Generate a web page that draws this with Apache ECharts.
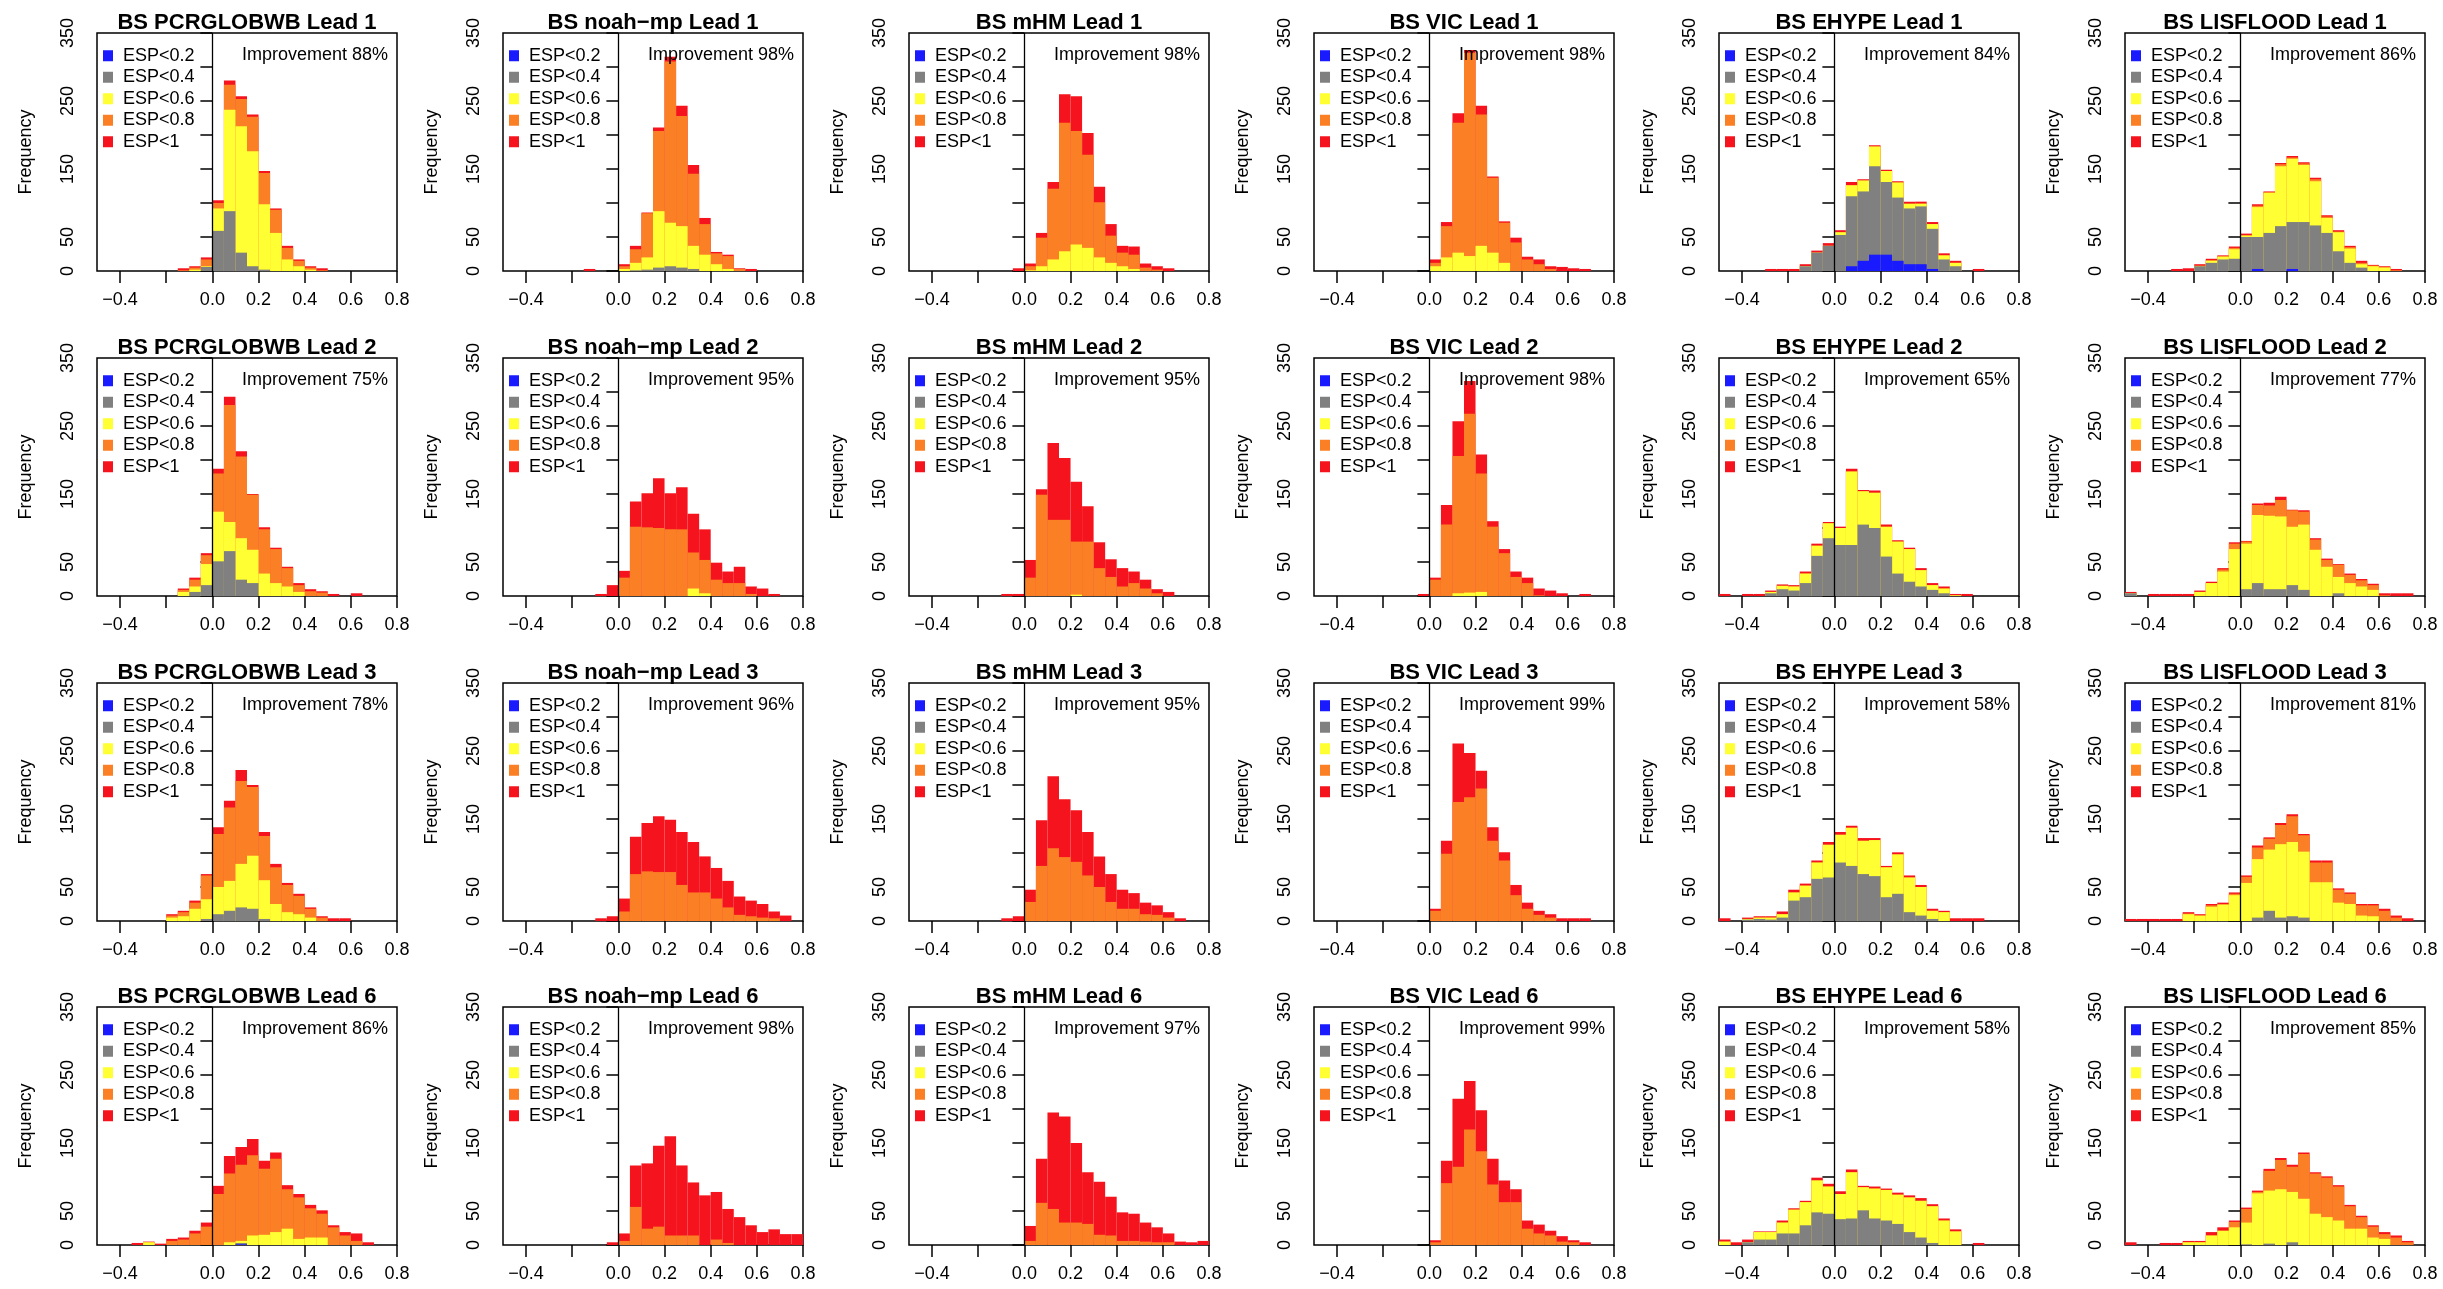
<!DOCTYPE html>
<html><head><meta charset="utf-8">
<script src="https://cdn.jsdelivr.net/npm/echarts@6/dist/echarts.min.js"></script>
<style>html,body{margin:0;padding:0;background:#fff}#c{width:2443px;height:1289px}</style>
</head><body><div id="c"></div>
<script>
// ---------- DATA ----------
// bin lower edges (width 0.05)
const binStarts = [-0.5,-0.45,-0.4,-0.35,-0.3,-0.25,-0.2,-0.15,-0.1,-0.05,0,0.05,0.1,0.15,0.2,0.25,0.3,0.35,0.4,0.45,0.5,0.55,0.6,0.65,0.7,0.75];
const xTicks = [-0.4,-0.2,0,0.2,0.4,0.6,0.8];
const xLabels = [-0.4,0,0.2,0.4,0.6,0.8];
const yLabels = [0,50,150,250,350];
const models = ['PCRGLOBWB','noah\u2212mp','mHM','VIC','EHYPE','LISFLOOD'];
const leads = [1,2,3,6];
const improvement = [[88,98,98,98,84,86],[75,95,95,98,65,77],[78,96,95,99,58,81],[86,98,97,99,58,85]];
const legendOrder = ['ESP<0.2','ESP<0.4','ESP<0.6','ESP<0.8','ESP<1'];
const none = [0,0,0,0,0,0,0,0,0,0,0,0,0,0,0,0,0,0,0,0,0,0,0,0,0,0];

// cumulative counts per class (r: ESP<1, o: ESP<0.8, y: ESP<0.6, g: ESP<0.4, b: ESP<0.2)
// Lead 1
const pcr1_r = [0,0,0,0,0,0,0,4,7,20,104,280,257,230,147,92,37,17,7,4,0,0,0,0,0,0];
const pcr1_o = [0,0,0,0,0,0,0,1,5,17,100,274,253,227,144,90,34,15,5,1,0,0,0,0,0,0];
const pcr1_y = [0,0,0,0,0,0,0,0,2,7,92,237,213,176,98,56,17,7,2,0,0,0,0,0,0,0];
const pcr1_g = [0,0,0,0,0,0,0,0,0,6,59,88,27,7,2,0,0,0,0,0,0,0,0,0,0,0];
const noah1_r = [0,0,0,0,0,0,0,3,0,0,10,37,86,211,315,243,156,78,28,24,4,3,0,0,0,0];
const noah1_o = [0,0,0,0,0,0,0,0,0,0,7,32,85,206,308,228,143,69,26,22,3,0,0,0,0,0];
const noah1_y = [0,0,0,0,0,0,0,0,0,0,3,12,20,88,71,66,37,24,10,3,0,0,0,0,0,0];
const noah1_g = [0,0,0,0,0,0,0,0,0,0,0,1,2,5,7,5,3,0,0,0,0,0,0,0,0,0];
const mhm1_r = [0,0,0,0,0,0,0,0,0,4,11,56,131,260,257,203,124,69,37,36,11,7,4,0,0,0];
const mhm1_o = [0,0,0,0,0,0,0,0,0,0,7,49,121,218,206,171,101,52,27,24,5,2,0,0,0,0];
const mhm1_y = [0,0,0,0,0,0,0,0,0,0,1,7,17,29,39,34,20,12,7,3,0,0,0,0,0,0];
const vic1_r = [0,0,0,0,0,0,0,0,0,0,17,72,232,325,243,139,73,49,21,17,7,6,4,3,0,0];
const vic1_o = [0,0,0,0,0,0,0,0,0,0,12,66,218,321,230,137,71,42,17,10,3,0,0,0,0,0];
const vic1_y = [0,0,0,0,0,0,0,0,0,0,7,20,27,22,37,27,12,0,0,0,0,0,0,0,0,0];
const ehype1_r = [0,0,0,0,3,3,3,10,30,41,60,131,135,185,149,132,102,102,72,26,15,0,3,0,0,0];
const ehype1_y = [0,0,0,0,0,0,0,7,27,37,57,126,133,183,147,130,99,99,69,23,12,0,0,0,0,0];
const ehype1_g = [0,0,0,0,0,0,0,7,27,37,53,110,117,154,131,108,92,95,62,17,7,0,0,0,0,0];
const ehype1_b = [0,0,0,0,0,0,0,0,0,0,0,7,15,24,24,15,10,10,3,0,0,0,0,0,0,0];
const lis1_r = [0,0,0,0,3,4,10,18,23,36,55,98,117,159,169,160,137,82,60,37,15,9,7,3,0,0];
const lis1_o = [0,0,0,0,0,0,8,16,22,34,53,96,116,157,167,158,135,80,58,35,12,8,6,1,0,0];
const lis1_y = [0,0,0,0,0,0,7,15,21,32,52,94,115,154,165,156,132,78,57,33,10,7,5,0,0,0];
const lis1_g = [0,0,0,0,0,0,7,12,17,18,50,50,56,66,72,72,67,56,29,12,5,0,0,0,0,0];
const lis1_b = [0,0,0,0,0,0,0,0,0,0,0,3,0,0,3,0,0,0,0,0,0,0,0,0,0,0];
// Lead 2
const pcr2_r = [0,0,0,0,0,0,0,11,27,63,187,293,213,150,101,71,43,19,10,7,3,0,4,0,0,0];
const pcr2_o = [0,0,0,0,0,0,0,9,24,60,180,281,205,149,98,69,41,16,7,5,0,0,0,0,0,0];
const pcr2_y = [0,0,0,0,0,0,0,6,14,47,124,109,85,68,33,19,14,6,0,0,0,0,0,0,0,0];
const pcr2_g = [0,0,0,0,0,0,0,0,6,16,51,66,24,19,0,0,0,0,0,0,0,0,0,0,0,0];
const noah2_r = [0,0,0,0,0,0,0,0,3,16,37,139,151,173,151,160,121,98,49,36,43,14,11,3,0,0];
const noah2_o = [0,0,0,0,0,0,0,0,0,0,27,102,101,100,98,98,64,53,24,19,19,3,0,0,0,0];
const noah2_y = [0,0,0,0,0,0,0,0,0,0,0,0,0,0,0,0,11,4,0,0,0,0,0,0,0,0];
const mhm2_r = [0,0,0,0,0,0,0,0,3,3,53,157,225,203,168,132,79,54,41,36,24,10,6,0,0,0];
const mhm2_o = [0,0,0,0,0,0,0,0,0,0,27,149,112,112,80,80,41,28,14,19,11,4,0,0,0,0];
const mhm2_y = [0,0,0,0,0,0,0,0,0,0,0,0,0,0,2,0,0,0,0,0,0,0,0,0,0,0];
const vic2_r = [0,0,0,0,0,0,0,0,0,3,27,134,257,316,208,110,69,36,27,11,8,4,0,3,0,0];
const vic2_o = [0,0,0,0,0,0,0,0,0,0,24,105,206,268,180,102,63,28,19,1,0,0,0,0,0,0];
const vic2_y = [0,0,0,0,0,0,0,0,0,0,0,0,4,5,6,0,0,0,0,0,0,0,0,0,0,0];
const ehype2_r = [3,0,3,3,8,17,16,36,77,109,102,187,156,155,105,82,71,41,19,14,3,3,0,0,0,0];
const ehype2_y = [0,0,0,0,6,15,14,33,74,107,100,183,154,152,102,80,69,38,16,11,1,0,0,0,0,0];
const ehype2_g = [0,0,0,0,4,10,8,19,59,85,75,75,105,100,58,33,21,14,9,4,0,0,0,0,0,0];
const lis2_r = [6,0,3,3,3,3,8,21,41,79,81,136,137,146,127,126,85,55,47,33,25,18,4,4,4,0];
const lis2_o = [4,0,0,0,0,0,6,19,39,77,80,134,133,141,126,124,83,53,46,31,23,16,1,0,0,0];
const lis2_y = [4,0,0,0,0,0,6,19,36,69,77,119,118,117,102,105,68,43,28,19,14,9,0,0,0,0];
const lis2_g = [4,0,0,0,0,0,0,0,0,0,10,19,10,10,16,9,0,0,4,0,0,0,0,0,0,0];
// Lead 3
const pcr3_r = [0,0,0,0,0,0,10,15,30,69,138,177,222,200,131,84,56,40,20,7,4,4,0,0,0,0];
const pcr3_o = [0,0,0,0,0,0,8,13,27,67,128,167,206,197,125,79,53,37,18,5,0,0,0,0,0,0];
const pcr3_y = [0,0,0,0,0,0,5,7,18,32,50,59,84,96,60,25,13,10,5,0,0,0,0,0,0,0];
const pcr3_g = [0,0,0,0,0,0,0,0,0,3,10,15,20,18,3,0,0,0,0,0,0,0,0,0,0,0];
const noah3_r = [0,0,0,0,0,0,0,0,4,7,33,124,144,154,149,131,116,95,78,59,36,30,25,14,8,0];
const noah3_o = [0,0,0,0,0,0,0,0,0,0,14,69,73,72,72,53,42,42,33,20,9,7,5,4,0,0];
const mhm3_r = [0,0,0,0,0,0,0,0,4,7,46,148,213,179,163,131,95,69,46,41,27,23,13,4,0,0];
const mhm3_o = [0,0,0,0,0,0,0,0,0,0,28,81,107,94,87,67,50,28,18,18,10,9,5,0,0,0];
const vic3_r = [0,0,0,0,0,0,0,0,0,0,18,118,261,247,221,138,101,53,27,15,10,4,4,4,0,0];
const vic3_o = [0,0,0,0,0,0,0,0,0,0,15,99,175,182,195,118,89,38,18,9,5,0,0,0,0,0];
const ehype3_r = [4,0,5,7,7,14,46,55,89,116,131,140,122,122,81,101,67,53,18,15,4,4,4,0,0,0];
const ehype3_y = [0,0,3,5,5,10,42,52,86,112,127,137,118,119,79,98,64,50,15,13,0,0,0,0,0,0];
const ehype3_g = [0,0,2,3,2,5,30,35,62,64,86,81,69,66,35,40,13,8,3,0,0,0,0,0,0,0];
const lis3_r = [3,3,3,3,3,13,10,25,27,42,67,111,123,144,157,128,89,89,48,42,25,25,18,8,4,0];
const lis3_o = [0,0,0,0,0,11,8,23,25,40,65,108,121,141,154,126,86,86,46,40,23,23,15,5,0,0];
const lis3_y = [0,0,0,0,0,10,8,21,24,38,56,91,105,113,116,102,57,57,27,25,8,7,0,0,0,0];
const lis3_g = [0,0,0,0,0,0,0,0,0,0,0,5,15,5,7,5,0,0,0,0,0,0,0,0,0,0];
// Lead 6
const pcr6_r = [0,0,0,3,5,2,9,11,21,33,87,131,144,156,124,136,88,75,59,51,29,19,17,4,0,0];
const pcr6_o = [0,0,0,0,4,0,6,8,17,27,75,105,118,132,112,127,82,70,54,46,26,14,6,0,0,0];
const pcr6_y = [0,0,0,0,4,0,0,0,0,0,0,4,6,14,15,19,24,9,11,11,0,0,0,0,0,0];
const pcr6_g = [0,0,0,0,0,0,0,0,0,0,0,0,3,0,0,0,0,0,0,0,0,0,0,0,0,0];
const pcr6_b = [0,0,0,0,0,0,0,0,0,0,0,0,1,0,0,0,0,0,0,0,0,0,0,0,0,0];
const noah6_r = [0,0,0,0,0,0,0,0,0,4,17,117,120,146,160,117,92,73,78,53,41,29,19,23,16,16];
const noah6_o = [0,0,0,0,0,0,0,0,0,0,6,56,24,27,14,14,14,0,8,3,0,0,0,0,0,0];
const mhm6_r = [0,0,0,0,0,0,0,0,0,0,28,127,195,189,150,107,93,71,48,46,33,26,17,5,4,6];
const mhm6_o = [0,0,0,0,0,0,0,0,0,0,6,62,53,33,33,31,15,14,6,6,5,4,4,0,0,0];
const vic6_r = [0,0,0,0,0,0,0,0,0,0,7,124,215,241,198,127,95,82,36,30,21,13,7,4,0,0];
const vic6_o = [0,0,0,0,0,0,0,0,0,0,4,91,115,170,138,89,63,63,24,17,14,5,4,0,0,0];
const ehype6_r = [8,4,8,20,20,36,54,65,99,90,79,111,87,86,83,77,73,69,60,39,23,0,3,0,0,0];
const ehype6_y = [5,0,4,19,19,33,52,63,95,86,75,107,85,83,81,74,70,65,57,36,20,0,0,0,0,0];
const ehype6_g = [0,0,4,8,8,17,17,29,48,46,38,39,51,39,36,31,19,11,3,0,0,0,0,0,0,0];
const lis6_r = [4,0,0,3,3,6,6,19,26,36,55,80,112,128,118,136,107,101,88,59,43,29,19,14,6,0];
const lis6_o = [0,0,0,0,0,4,4,14,21,34,53,78,109,125,115,134,105,99,86,57,41,27,16,11,4,0];
const lis6_y = [0,0,0,0,0,4,4,14,21,26,33,76,80,82,78,68,46,41,36,24,24,11,9,0,0,0];
const lis6_g = [0,0,0,0,0,0,0,0,0,0,1,0,2,0,4,0,0,0,0,0,0,0,0,0,0,0];

// per panel: [ESP<1, ESP<0.8, ESP<0.6, ESP<0.4, ESP<0.2], row by row
const panelLayers = [
  [pcr1_r,pcr1_o,pcr1_y,pcr1_g,none],[noah1_r,noah1_o,noah1_y,noah1_g,none],[mhm1_r,mhm1_o,mhm1_y,none,none],
  [vic1_r,vic1_o,vic1_y,none,none],[ehype1_r,ehype1_y,ehype1_y,ehype1_g,ehype1_b],[lis1_r,lis1_o,lis1_y,lis1_g,lis1_b],
  [pcr2_r,pcr2_o,pcr2_y,pcr2_g,none],[noah2_r,noah2_o,noah2_y,none,none],[mhm2_r,mhm2_o,mhm2_y,none,none],
  [vic2_r,vic2_o,vic2_y,none,none],[ehype2_r,ehype2_y,ehype2_y,ehype2_g,none],[lis2_r,lis2_o,lis2_y,lis2_g,none],
  [pcr3_r,pcr3_o,pcr3_y,pcr3_g,none],[noah3_r,noah3_o,none,none,none],[mhm3_r,mhm3_o,none,none,none],
  [vic3_r,vic3_o,none,none,none],[ehype3_r,ehype3_y,ehype3_y,ehype3_g,none],[lis3_r,lis3_o,lis3_y,lis3_g,none],
  [pcr6_r,pcr6_o,pcr6_y,pcr6_g,pcr6_b],[noah6_r,noah6_o,none,none,none],[mhm6_r,mhm6_o,none,none,none],
  [vic6_r,vic6_o,none,none,none],[ehype6_r,ehype6_y,ehype6_y,ehype6_g,none],[lis6_r,lis6_o,lis6_y,lis6_g,none]
];
const layerNames = ['ESP<1','ESP<0.8','ESP<0.6','ESP<0.4','ESP<0.2'];

// ---------- LAYOUT / STYLE ----------
const layerColors = ['#f5141e','#fb7f24','#ffff33','#808080','#1a1aff'];
const FF = '"Liberation Sans", Arial, Helvetica, sans-serif';
const colLeft = [97, 503, 909, 1314, 1719, 2125];
const rowTop = [33, 358, 683, 1007];
const W = 300, H = 238;
const fmtX = v => (Math.abs(v) < 1e-9 ? '0.0' : (v < 0 ? '\u2212' : '') + Math.abs(v).toFixed(1));

const option = {animation:false, backgroundColor:'#fff', grid:[], xAxis:[], yAxis:[], series:[], title:[], legend:[]};
rowTop.forEach((T, r) => colLeft.forEach((L, c) => {
  const k = option.grid.length;
  option.grid.push({left:L, top:T, width:W, height:H, show:true, borderColor:'#000', borderWidth:1.5,
    backgroundColor:'rgba(0,0,0,0)', containLabel:false, outerBoundsMode:'none'});
  option.xAxis.push({type:'category', gridIndex:k, position:'top', data:binStarts.map(String), show:false, boundaryGap:true});
  option.xAxis.push({type:'value', gridIndex:k, position:'bottom', min:-0.5, max:0.8,
    axisLine:{show:false}, splitLine:{show:false},
    axisTick:{show:true, length:12, customValues:xTicks, lineStyle:{color:'#000', width:1.5}},
    axisLabel:{show:true, customValues:xLabels, formatter:fmtX, fontSize:18, color:'#000', fontFamily:FF, margin:20}});
  option.yAxis.push({type:'value', gridIndex:k, min:0, max:350, interval:50,
    axisLine:{show:false}, splitLine:{show:false},
    axisTick:{show:true, length:12, lineStyle:{color:'#000', width:1.5}},
    axisLabel:{show:true, customValues:yLabels, rotate:90, fontSize:18, color:'#000', fontFamily:FF, margin:20},
    name:'Frequency', nameLocation:'middle', nameGap:62,
    nameTextStyle:{fontSize:18, color:'#000', fontFamily:FF}});
  layerNames.forEach((nm, j) => option.series.push({type:'bar', name:nm, xAxisIndex:2*k, yAxisIndex:k,
    data:panelLayers[k][j], itemStyle:{color:layerColors[j]}, barGap:'-100%', barCategoryGap:'0%',
    silent:true, animation:false}));
  option.series.push({type:'line', xAxisIndex:2*k+1, yAxisIndex:k, data:[], z:5, silent:true, showSymbol:false,
    markLine:{symbol:'none', silent:true, animation:false, label:{show:false},
      lineStyle:{color:'#000', width:1.3, type:'solid'}, data:[{xAxis:0}]}});
  option.title.push({text:'BS ' + models[c] + ' Lead ' + leads[r], left:L + W/2, top:T - 21, textAlign:'center', padding:0,
    textStyle:{fontSize:22, fontWeight:'bold', color:'#000', fontFamily:FF, lineHeight:22}});
  option.title.push({text:'Improvement ' + improvement[r][c] + '%', left:L + W - 9, top:T + 13, textAlign:'right', padding:0,
    textStyle:{fontSize:18, fontWeight:'normal', color:'#000', fontFamily:FF, lineHeight:18}});
  option.legend.push({data:legendOrder, left:L + 6, top:T + 12, orient:'vertical', padding:0, itemGap:0,
    itemWidth:20, itemHeight:11, icon:'path://M0,0H10V11H0Z', selectedMode:false,
    textStyle:{fontSize:18, color:'#000', fontFamily:FF, lineHeight:21.5}});
}));

const chart = echarts.init(document.getElementById('c'), null, {renderer:'canvas'});
chart.setOption(option);
</script>
</body></html>
